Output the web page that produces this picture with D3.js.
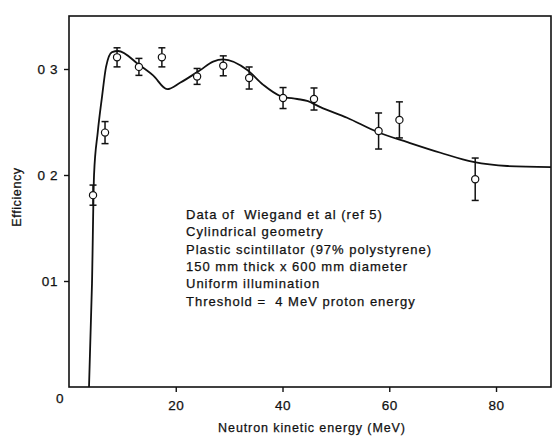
<!DOCTYPE html>
<html>
<head>
<meta charset="utf-8">
<title>efficiency</title>
<script src="https://cdn.jsdelivr.net/npm/d3@7"></script>
<style>
  body { margin: 0; background: #fff; }
  svg { font-family: "Liberation Sans", Arial, sans-serif; }
  .frame { fill: none; stroke: #111; stroke-width: 1.6px; }
  .tick-lbl { font-size: 13.5px; fill: #111; stroke: #111; stroke-width: 0.25px; letter-spacing: 0.6px; }
  .note { font-size: 13px; fill: #111; stroke: #111; stroke-width: 0.25px; letter-spacing: 1px; white-space: pre; }
  .curve { fill: none; stroke: #111; stroke-width: 1.8px; }
  .err { stroke: #111; stroke-width: 1.5px; }
  .pt { fill: #fff; stroke: #111; stroke-width: 1.2px; }
</style>
</head>
<body>
<svg width="552" height="438"></svg>
<script>
// measured points (Wiegand et al)
var energy = [4.5, 6.75, 9.0, 13.1, 17.4, 24.0, 28.9, 33.75, 40.1, 45.9, 58.0, 61.9, 76.1];
var eff    = [0.181, 0.240, 0.311, 0.302, 0.311, 0.293, 0.303, 0.2915, 0.2726, 0.2717, 0.2415, 0.252, 0.196];
var errs   = [0.0095, 0.0104, 0.009, 0.008, 0.009, 0.0075, 0.0094, 0.0104, 0.0099, 0.0104, 0.017, 0.017, 0.020];

// calculated curve
var curveE   = [3.75, 4.31, 4.69, 5.38, 6.19, 6.94, 8.06, 9.19, 13.1, 15.75, 18.4, 20.8, 24.6, 27.0, 28.9, 33.4, 36.4, 39.6, 42.75, 44.6, 47.1, 52.1, 57.75, 63.4, 69.6, 75.75, 82.1, 90.3];
var curveEff = [0, 0.098, 0.2, 0.24, 0.274, 0.302, 0.316, 0.317, 0.304, 0.294, 0.281, 0.287, 0.299, 0.307, 0.309, 0.299, 0.285, 0.2745, 0.2717, 0.270, 0.264, 0.254, 0.2406, 0.231, 0.221, 0.2123, 0.2085, 0.2075];

var xTicks = [20, 40, 60, 80];
var yTicks = [0.1, 0.2, 0.3];
var yTickLabels = ["01", "0 2", "0 3"];

var notes = [
  "Data of  Wiegand et al (ref 5)",
  "Cylindrical geometry",
  "Plastic scintillator (97% polystyrene)",
  "150 mm thick x 600 mm diameter",
  "Uniform illumination",
  "Threshold =  4 MeV proton energy"
];

var svg = d3.select("svg");
var x = d3.scaleLinear().domain([0, 90.3]).range([69, 551]);
var y = d3.scaleLinear().domain([0, 0.35]).range([387, 16]);

// frame
svg.append("rect").attr("class", "frame")
  .attr("x", x(0)).attr("y", y(0.35))
  .attr("width", x(90.3) - x(0)).attr("height", y(0) - y(0.35));

// x axis
var xAxis = svg.append("g")
  .attr("transform", "translate(0," + y(0) + ")")
  .call(d3.axisBottom(x).tickValues(xTicks).tickSize(5).tickPadding(8).tickFormat(d3.format("d")));
xAxis.select(".domain").remove();
xAxis.selectAll("line").attr("stroke", "#111").attr("stroke-width", 1.4);
xAxis.selectAll("text").attr("class", "tick-lbl").attr("font-size", null).attr("font-family", null);

// y axis
var yAxis = svg.append("g")
  .attr("transform", "translate(" + x(0) + ",0)")
  .call(d3.axisLeft(y).tickValues(yTicks).tickSize(5).tickPadding(6)
    .tickFormat(function(d, i) { return yTickLabels[i]; }));
yAxis.select(".domain").remove();
yAxis.selectAll("line").attr("stroke", "#111").attr("stroke-width", 1.4);
yAxis.selectAll("text").attr("class", "tick-lbl").attr("font-size", null).attr("font-family", null)
  .style("white-space", "pre");

// shared origin label
svg.append("text").attr("class", "tick-lbl")
  .attr("x", x(0) - 9).attr("y", y(0) + 16)
  .attr("text-anchor", "middle").text("0");

// axis titles
svg.append("text").attr("class", "tick-lbl")
  .attr("x", 312).attr("y", 432)
  .attr("text-anchor", "middle").style("letter-spacing", "0.9px")
  .style("font-size", "12.5px")
  .text("Neutron kinetic energy (MeV)");

svg.append("text").attr("class", "tick-lbl")
  .attr("transform", "translate(21,197) rotate(-90)")
  .attr("text-anchor", "middle").style("font-size", "12.5px")
  .text("Efficiency");

// curve
var line = d3.line()
  .x(function(d, i) { return x(curveE[i]); })
  .y(function(d) { return y(d); })
  .curve(d3.curveMonotoneX);

svg.append("path").attr("class", "curve").datum(curveEff).attr("d", line);

// error bars + points
var pts = svg.append("g").selectAll("g").data(eff).enter().append("g");
pts.append("line").attr("class", "err")
  .attr("x1", function(d, i) { return x(energy[i]); })
  .attr("x2", function(d, i) { return x(energy[i]); })
  .attr("y1", function(d, i) { return y(d - errs[i]); })
  .attr("y2", function(d, i) { return y(d + errs[i]); });
[-1, 1].forEach(function(s) {
  pts.append("line").attr("class", "err")
    .attr("x1", function(d, i) { return x(energy[i]) - 3.5; })
    .attr("x2", function(d, i) { return x(energy[i]) + 3.5; })
    .attr("y1", function(d, i) { return y(d + s * errs[i]); })
    .attr("y2", function(d, i) { return y(d + s * errs[i]); });
});
pts.append("circle").attr("class", "pt")
  .attr("cx", function(d, i) { return x(energy[i]); })
  .attr("cy", function(d) { return y(d); })
  .attr("r", 3.6);

// notes
svg.append("g").selectAll("text").data(notes).enter().append("text")
  .attr("class", "note")
  .attr("x", 186)
  .attr("y", function(d, i) { return 219 + i * 17.3; })
  .text(function(d) { return d; });
</script>
</body>
</html>
